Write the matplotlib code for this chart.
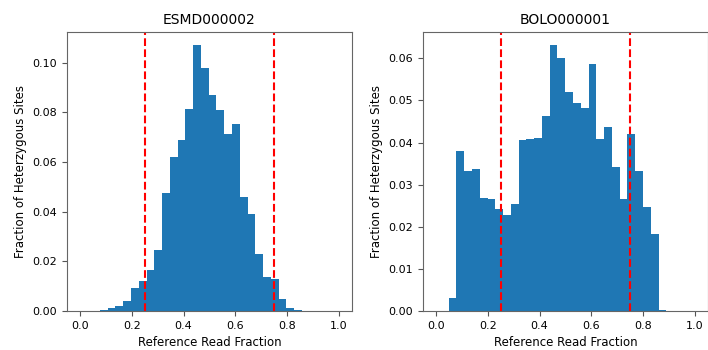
import numpy as np
import matplotlib
matplotlib.use('Agg')
import matplotlib.pyplot as plt

# histogram values (fraction of sites per bin)
bin_width = 0.03
esmd_start = 0.077
esmd_frac = [0.0005, 0.0012, 0.0019, 0.0039, 0.0091, 0.0119, 0.0164, 0.0247,
             0.0476, 0.0622, 0.0690, 0.0815, 0.1070, 0.0980, 0.0870, 0.0810,
             0.0711, 0.0751, 0.0461, 0.0390, 0.0231, 0.0136, 0.0130, 0.0047,
             0.0014, 0.0003]
bolo_start = 0.049
bolo_frac = [0.0030, 0.0380, 0.0332, 0.0338, 0.0268, 0.0267, 0.0243, 0.0228,
             0.0253, 0.0407, 0.0409, 0.0410, 0.0462, 0.0631, 0.0600, 0.0519,
             0.0495, 0.0482, 0.0586, 0.0409, 0.0438, 0.0341, 0.0265, 0.0421,
             0.0333, 0.0247, 0.0184, 0.0003]
cutoffs = [0.25, 0.75]
samples = ['ESMD000002', 'BOLO000001']

fig = plt.figure(figsize=(7.08, 3.5), dpi=100)
ax1 = fig.add_axes([0.0946, 0.1114, 0.4025, 0.7972])
ax2 = fig.add_axes([0.5975, 0.1114, 0.4025, 0.7972])

for ax, name, start, frac in [(ax1, samples[0], esmd_start, esmd_frac),
                              (ax2, samples[1], bolo_start, bolo_frac)]:
    edges = start + bin_width * np.arange(len(frac))
    ax.bar(edges, frac, width=bin_width, align='edge', color='#1f77b4', linewidth=0)
    for c in cutoffs:
        ax.axvline(c, color='red', linestyle='--', linewidth=1.5)
    ax.set_xlim(-0.05, 1.05)
    ax.set_ylim(0, max(frac) * 1.05)
    ax.set_xticks(np.arange(0, 1.01, 0.2))
    ax.set_title(name, fontsize=10)
    ax.set_xlabel('Reference Read Fraction', fontsize=8.5)
    ax.set_ylabel('Fraction of Heterzygous Sites', fontsize=8.5)
    ax.tick_params(labelsize=8, color='#555555')
    for s in ax.spines.values():
        s.set_color('#666666')

ax1.set_yticks(np.arange(0, 0.101, 0.02))
ax2.set_yticks(np.arange(0, 0.061, 0.01))

fig.savefig('out.png', dpi=100)
